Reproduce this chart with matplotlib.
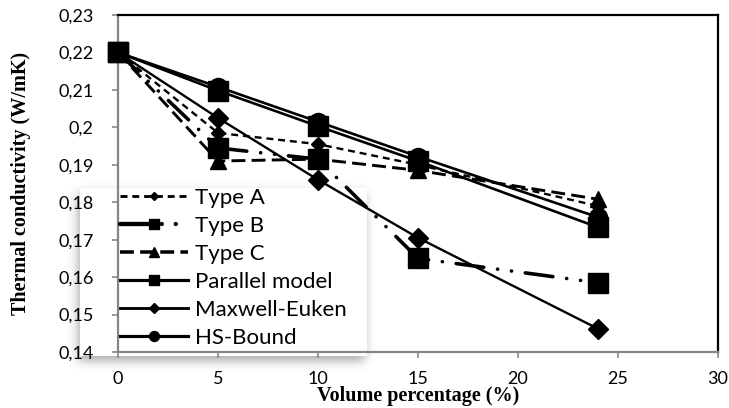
import numpy as np
import matplotlib.pyplot as plt
from math import erf

# volume percentage (%)
volume = [0, 5, 10, 15, 24]

# thermal conductivity (W/mK)
type_a = [0.220, 0.1985, 0.1955, 0.1900, 0.1790]
type_b = [0.220, 0.1945, 0.1915, 0.1650, 0.1585]
type_c = [0.220, 0.1910, 0.1915, 0.1885, 0.1808]
parallel_model = [0.220, 0.2098, 0.2003, 0.1910, 0.1733]
maxwell_euken = [0.220, 0.2025, 0.1860, 0.1705, 0.1462]
hs_bound = [0.220, 0.2108, 0.2015, 0.1922, 0.1760]

x_ticks = [0, 5, 10, 15, 20, 25, 30]
y_ticks = [0.14, 0.15, 0.16, 0.17, 0.18, 0.19, 0.20, 0.21, 0.22, 0.23]
y_tick_labels = ["0,14", "0,15", "0,16", "0,17", "0,18", "0,19", "0,2", "0,21", "0,22", "0,23"]

W, H = 729, 408
plt.rcParams['font.family'] = ['Lato', 'DejaVu Sans']
plt.rcParams['lines.scale_dashes'] = False

fig = plt.figure(figsize=(W / 100, H / 100), dpi=100)
ax = fig.add_axes([118 / W, 1 - 352 / H, 600 / W, 337 / H])
ax.set_facecolor('none')


def soft_box(x0, y0, x1, y1, dx=-2, dy=5, sigma=5.0, strength=0.55):
    """White legend box with a blurred drop shadow, in figure pixels (top-left origin)."""
    verf = np.vectorize(erf)
    xs = np.arange(W) + 0.5
    ys = np.arange(H) + 0.5
    s = sigma * np.sqrt(2)
    fx = 0.5 * (verf((xs - x0 - dx) / s) - verf((xs - x1 - dx) / s))
    fy = 0.5 * (verf((ys - y0 - dy) / s) - verf((ys - y1 - dy) / s))
    img = np.zeros((H, W, 4))
    img[..., :3] = 0.4
    img[..., 3] = strength * np.outer(fy, fx)
    img[y0:y1, x0:x1] = [1, 1, 1, 1]
    fig.figimage(img, 0, 0, origin='upper', zorder=-1)


soft_box(80, 188, 367, 356)

ax.plot(volume, type_a, color='black', lw=1.7, dashes=(5, 3.5),
        marker='D', ms=7.5, label='Type A', zorder=3, clip_on=False)
ax.plot(volume, type_b, color='black', lw=2.6, dashes=(20, 10, 0.1, 10, 0.1, 10),
        dash_capstyle='round', marker='s', ms=14, label='Type B', zorder=3, clip_on=False)
ax.plot(volume, type_c, color='black', lw=2.1, dashes=(10, 4.5),
        marker='^', ms=12, label='Type C', zorder=3, clip_on=False)
ax.plot(volume, parallel_model, color='black', lw=1.9,
        marker='s', ms=14, label='Parallel model', zorder=3, clip_on=False)
ax.plot(volume, maxwell_euken, color='black', lw=1.7,
        marker='D', ms=10, label='Maxwell-Euken', zorder=3, clip_on=False)
ax.plot(volume, hs_bound, color='black', lw=1.9,
        marker='o', ms=13, label='HS-Bound', zorder=3, clip_on=False)

ax.set_xlim(0, 30)
ax.set_ylim(0.14, 0.23)
ax.set_xticks(x_ticks)
ax.set_yticks(y_ticks)
ax.set_yticklabels(y_tick_labels)
ax.tick_params(axis='both', direction='out', length=4.5, width=1.2, color='#868686',
               labelsize=13, labelcolor='black')
ax.tick_params(axis='y', pad=13)
ax.tick_params(axis='x', pad=9)

for side in ['left', 'bottom']:
    ax.spines[side].set_color('#868686')
    ax.spines[side].set_linewidth(1.6)
for side in ['top', 'right']:
    ax.spines[side].set_color('black')
    ax.spines[side].set_linewidth(1.6)

ax.set_xlabel('Volume percentage (%)', family='Liberation Serif', weight='bold',
              fontsize=14.5, va='center')
ax.set_ylabel('Thermal conductivity (W/mK)', family='Liberation Serif', weight='bold',
              fontsize=14.5, va='center')
ax.xaxis.set_label_coords(0.5, (352 - 396) / 337)
ax.yaxis.set_label_coords((21 - 118) / 600, 0.5)

leg = ax.legend(loc='upper left', bbox_to_anchor=(118 / W, 1 - 186 / H),
                bbox_transform=fig.transFigure, frameon=False, fontsize=16,
                handlelength=3.06, handletextpad=0.32, labelspacing=0.36,
                borderpad=0.1, borderaxespad=0, markerscale=0.55)
for line in leg.get_lines():
    line.set_linewidth(line.get_linewidth() * 1.2)

fig.savefig('out.png', dpi=100)
